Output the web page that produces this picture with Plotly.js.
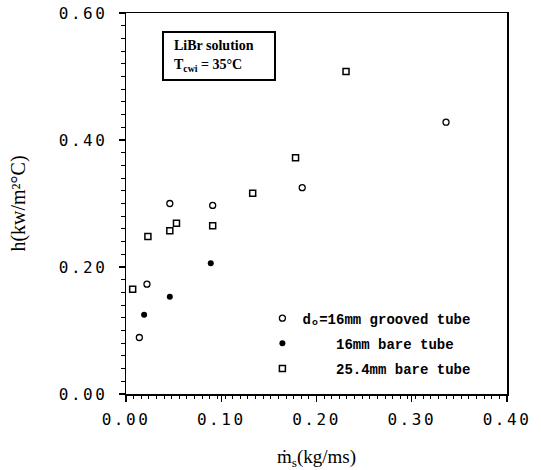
<!DOCTYPE html>
<html>
<head>
<meta charset="utf-8">
<script src="https://cdn.plot.ly/plotly-3.0.1.min.js"></script>
<style>
  html, body { margin: 0; padding: 0; background: #fff; }
  #chart { width: 541px; height: 470px; }
  .xtick text, .ytick text { letter-spacing: 2.5px; }
</style>
</head>
<body>
<div id="chart"></div>
<script>
// data
const groovedX = [0.014, 0.022, 0.046, 0.091, 0.185, 0.336];
const groovedY = [0.089, 0.173, 0.300, 0.297, 0.325, 0.428];
const bare16X = [0.019, 0.046, 0.089];
const bare16Y = [0.125, 0.153, 0.206];
const bare25X = [0.007, 0.023, 0.046, 0.053, 0.091, 0.133, 0.178, 0.231];
const bare25Y = [0.165, 0.248, 0.257, 0.269, 0.265, 0.316, 0.372, 0.508];
const seriesNames = [
  "d\u2092=16mm grooved tube",
  "\u00a0\u00a0\u00a0\u00a016mm bare tube",
  "\u00a0\u00a0\u00a0\u00a025.4mm bare tube"
];
const xTickVals = [0, 0.1, 0.2, 0.3, 0.4];
const xTickText = ["0.00", "0.10", "0.20", "0.30", "0.40"];
const yTickVals = [0, 0.2, 0.4, 0.6];
const yTickText = ["0.00", "0.20", "0.40", "0.60"];

const traces = [
  {x: groovedX, y: groovedY, name: seriesNames[0], legendgroup: "a", type: "scatter", mode: "markers",
   marker: {symbol: "circle-open", size: 6, color: "#000", line: {width: 1.3, color: "#000"}}},
  {x: bare16X, y: bare16Y, name: seriesNames[1], legendgroup: "b", type: "scatter", mode: "markers",
   marker: {symbol: "circle", size: 6, color: "#000"}},
  {x: bare25X, y: bare25Y, name: seriesNames[2], legendgroup: "c", type: "scatter", mode: "markers",
   marker: {symbol: "square-open", size: 6, color: "#000", line: {width: 1.5, color: "#000"}}}
];

const tickFont = {family: "DejaVu Sans Mono", size: 16, color: "#000"};
const layout = {
  width: 541, height: 470,
  margin: {l: 126, r: 34, t: 13, b: 76},
  paper_bgcolor: "#fff", plot_bgcolor: "#fff",
  showlegend: true,
  legend: {
    x: 0.358, y: 0.24, xanchor: "left", yanchor: "top",
    bgcolor: "rgba(0,0,0,0)", borderwidth: 0,
    font: {family: "Liberation Mono", size: 14, color: "#000", weight: "bold"},
    tracegroupgap: 4, itemwidth: 30
  },
  xaxis: {
    range: [0, 0.4], showgrid: false, zeroline: false,
    showline: true, linecolor: "#000", linewidth: 1.5, mirror: true,
    ticks: "outside", ticklen: 6, tickwidth: 1.3, tickcolor: "#000",
    tickvals: xTickVals, ticktext: xTickText, tickfont: tickFont,
    ticklabelstandoff: 4,
    minor: {dtick: 0.008, tick0: 0, ticks: "outside", ticklen: 3, tickwidth: 1, tickcolor: "#000", showgrid: false},
    title: {text: "\u1e41<sub>s</sub>(kg/ms)", font: {family: "Liberation Serif", size: 19, color: "#000"}, standoff: 26}
  },
  yaxis: {
    range: [0, 0.6], showgrid: false, zeroline: false,
    showline: true, linecolor: "#000", linewidth: 1.5, mirror: true,
    ticks: "outside", ticklen: 6, tickwidth: 1.3, tickcolor: "#000",
    tickvals: yTickVals, ticktext: yTickText, tickfont: tickFont,
    ticklabelstandoff: 8,
    minor: {dtick: 0.02, tick0: 0, ticks: "outside", ticklen: 4, tickwidth: 1, tickcolor: "#000", showgrid: false},
    title: {text: "h(kw/m\u00b2\u00b0C)", font: {family: "Liberation Serif", size: 20, color: "#000"}, standoff: 28}
  },
  annotations: [{
    xref: "paper", yref: "paper", x: 0.243, y: 0.888, xanchor: "center", yanchor: "middle",
    text: "<b>\u00a0\u00a0LiBr solution<br>\u00a0\u00a0T<sub>cwi</sub> = 35\u00b0C</b>",
    align: "left", showarrow: false,
    font: {family: "Liberation Serif", size: 14, color: "#000"},
    bordercolor: "#000", borderwidth: 2, borderpad: 3, bgcolor: "#fff",
    width: 104, height: 40
  }]
};

Plotly.newPlot("chart", traces, layout, {displayModeBar: false, staticPlot: true});
</script>
</body>
</html>
